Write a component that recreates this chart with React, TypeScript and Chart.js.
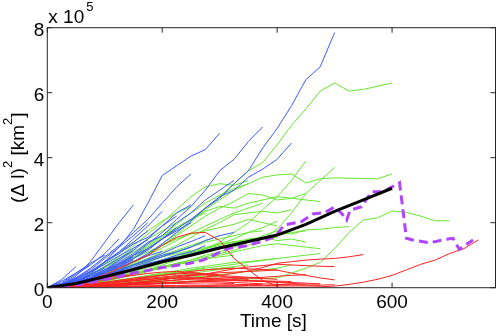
import React, { useEffect, useRef } from "react";
import { Chart, registerables } from "chart.js";
Chart.register(...registerables);

// time step (s) between consecutive samples of each track
const STEP = 25;
const X_MAX = 780;
const Y_MAX = 8;
const xTicks = [0, 200, 400, 600];
const yTicks = [0, 2, 4, 6, 8];
const xTitle = "Time [s]";

// values in units of 1e5 km^2, sampled every STEP seconds from t = 0
const blueTracks: number[][] = [
  [0, 0.05, 0.15, 0.3, 0.45, 0.65, 0.9, 1.15, 1.5, 1.8, 2.1, 2.45, 2.75, 3.2, 3.6, 4.3, 4.9, 5.6, 6.4, 6.8, 7.85],
  [0, 0.05, 0.2, 0.4, 0.8, 1.25, 1.8, 2.6, 3.45, 3.75, 4.05, 4.25, 4.75],
  [0, 0.03, 0.1, 0.25, 0.45, 0.7, 1.0, 1.35, 1.7, 2.1, 2.5, 3.0, 3.6, 3.95, 4.5, 4.95],
  [0, 0.03, 0.1, 0.2, 0.35, 0.55, 0.8, 1.05, 1.35, 1.7, 2.05, 2.45, 2.8, 3.0, 3.4, 3.65, 3.95, 4.45],
  [0, 0.1, 0.35, 0.8, 1.4, 2.0, 2.55],
  [0, 0.15, 0.45, 0.75, 1.0],
  [0, 0.25, 0.65],
  [0, 0.2, 0.45, 0.7],
  [0, 0.05, 0.2, 0.45, 0.8, 1.1, 1.5, 1.9, 2.35],
  [0, 0.05, 0.15, 0.3, 0.5, 0.7, 0.9, 1.2, 1.5, 1.75, 2.0],
  [0, 0.03, 0.1, 0.2, 0.35, 0.5, 0.65, 0.8, 0.95, 1.1, 1.25, 1.45, 1.6, 1.7],
  [0, 0.05, 0.15, 0.3, 0.5, 0.75, 1.0, 1.2, 1.5, 1.85],
  [0, 0.08, 0.3, 0.6, 0.95, 1.3, 1.7, 2.1, 2.6, 3.1, 3.5],
  [0, 0.04, 0.12, 0.25, 0.4, 0.55, 0.7, 0.85, 1.0, 1.1, 1.25],
  [0, 0.06, 0.2, 0.4, 0.65, 0.9, 1.15],
  [0, 0.1, 0.3, 0.55, 0.9, 1.25, 1.6, 2.0],
  [0, 0.02, 0.08, 0.18, 0.3, 0.45, 0.6, 0.75, 0.85, 1.0, 1.1, 1.3],
  [0, 0.07, 0.25, 0.5, 0.8, 1.05, 1.35, 1.55, 1.9, 2.3, 2.55],
  [0, 0.12, 0.4, 0.7, 1.05, 1.5],
  [0, 0.05, 0.18, 0.35, 0.55, 0.8, 1.05, 1.4, 1.6, 2.0, 2.3, 2.7, 3.0, 3.3],
  [0, 0.08, 0.22, 0.4, 0.6],
  [0, 0.04, 0.14, 0.28, 0.45, 0.65, 0.85],
  [0, 0.1, 0.28, 0.5, 0.78, 1.1, 1.4, 1.75],
  [0, 0.03, 0.12, 0.3, 0.55, 0.85, 1.15, 1.5, 1.9, 2.2],
  [0, 0.06, 0.16, 0.3, 0.46, 0.62, 0.8, 0.98, 1.12],
  [0, 0.04, 0.1, 0.2, 0.32, 0.45, 0.58, 0.72, 0.85, 0.95],
  [0, 0.09, 0.26, 0.48, 0.72, 0.98, 1.22, 1.48],
  [0, 0.05, 0.13, 0.24, 0.38, 0.52, 0.7, 0.88, 1.05, 1.25, 1.42, 1.6],
  [0, 0.07, 0.2, 0.36, 0.55, 0.74, 0.95],
  [0, 0.03, 0.09, 0.17, 0.28, 0.4, 0.54, 0.68, 0.8, 0.92, 1.04, 1.15, 1.26],
];

const greenTracks: number[][] = [
  [0, 0.03, 0.1, 0.2, 0.4, 0.55, 0.75, 1.0, 1.35, 1.65, 2.0, 2.45, 2.8, 3.2, 3.6, 3.85, 4.4, 5.0, 5.5, 6.05, 6.3, 6.05, 6.1, 6.2, 6.3],
  [0, 0.01, 0.03, 0.05, 0.07, 0.1, 0.12, 0.14, 0.16, 0.18, 0.2, 0.22, 0.24, 0.25, 0.27, 0.28, 0.3, 0.45, 0.6, 0.78, 1.2, 1.7, 2.08, 2.15, 2.36, 2.32, 2.2, 2.06, 2.06],
  [0, 0.05, 0.15, 0.3, 0.5, 0.7, 0.95, 1.2, 1.5, 1.8, 2.1, 2.4, 2.7, 3.0, 3.2, 3.4, 3.47, 3.5, 3.22, 3.35, 3.38, 3.37, 3.36, 3.35, 3.5],
  [0, 0.04, 0.12, 0.25, 0.4, 0.6, 0.8, 1.05, 1.3, 1.6, 1.9, 2.2, 2.45, 2.65, 2.9, 2.85, 2.7, 2.75, 2.7, 2.65],
  [0, 0.02, 0.06, 0.12, 0.2, 0.3, 0.4, 0.5, 0.62, 0.75, 0.85, 1.0, 1.1, 1.25, 1.4, 1.6, 1.75, 1.65, 1.78, 1.8, 1.85, 1.88],
  [0, 0.02, 0.06, 0.12, 0.2, 0.3, 0.42, 0.55, 0.7, 0.85, 1.0, 1.2, 1.4, 1.7, 2.0, 2.4, 2.8, 3.3, 3.9],
  [0, 0.03, 0.08, 0.15, 0.25, 0.35, 0.45, 0.55, 0.65, 0.75, 0.85, 0.95, 1.05, 1.15, 1.3, 1.5, 1.8, 2.3, 2.9, 3.3, 3.7],
  [0, 0.05, 0.2, 0.4, 0.65, 0.95, 1.3, 1.65, 2.0, 2.4, 2.8, 3.1, 3.2, 3.15, 3.3],
  [0, 0.04, 0.15, 0.3, 0.5, 0.75, 1.0, 1.25, 1.55, 1.85, 2.1, 2.35, 2.5, 2.45, 2.6, 2.7, 2.8, 2.75, 2.9],
  [0, 0.03, 0.1, 0.22, 0.38, 0.55, 0.72, 0.9, 1.1, 1.3, 1.55, 1.8, 2.0, 2.25, 2.3, 2.35, 2.3, 2.4],
  [0, 0.02, 0.08, 0.18, 0.3, 0.45, 0.6, 0.78, 0.95, 1.1, 1.25, 1.4, 1.5, 1.6, 1.7, 1.75],
  [0, 0.03, 0.09, 0.17, 0.27, 0.38, 0.5, 0.62, 0.75, 0.88, 1.0, 1.1, 1.2, 1.35, 1.5, 1.55, 1.45, 1.5, 1.4],
  [0, 0.05, 0.15, 0.3, 0.48, 0.7, 0.9, 1.1, 1.3, 1.5, 1.65, 1.75, 1.85, 1.95, 2.1, 2.0, 1.9],
  [0, 0.02, 0.06, 0.12, 0.2, 0.3, 0.4, 0.5, 0.6, 0.7, 0.8, 0.9, 1.0, 1.1, 1.2, 1.3, 1.35, 1.3, 1.25, 1.2],
  [0, 0.04, 0.12, 0.24, 0.38, 0.52, 0.68, 0.85, 1.0, 1.15, 1.3, 1.45, 1.6],
  [0, 0.06, 0.2, 0.4, 0.62, 0.85, 1.1, 1.35, 1.6, 1.85, 2.1, 2.3],
  [0, 0.03, 0.08, 0.15, 0.25, 0.35, 0.45, 0.55, 0.65, 0.72, 0.8, 0.88, 0.95, 1.0],
  [0, 0.02, 0.05, 0.1, 0.16, 0.22, 0.3, 0.38, 0.45, 0.52, 0.6, 0.66, 0.72, 0.78, 0.8, 0.85, 0.9],
  [0, 0.05, 0.15, 0.28, 0.42, 0.55, 0.7, 0.82, 0.95, 1.05, 1.15],
  [0, 0.01, 0.04, 0.08, 0.13, 0.19, 0.25, 0.32, 0.38, 0.44, 0.5, 0.55, 0.6, 0.65, 0.7],
  [0, 0.02, 0.07, 0.14, 0.22, 0.32, 0.42, 0.52, 0.62],
  [0, 0.04, 0.1, 0.18, 0.28, 0.4, 0.52, 0.65, 0.78, 0.92, 1.05, 1.2, 1.35, 1.5, 1.7, 1.85, 2.05],
  [0, 0.01, 0.03, 0.06, 0.1, 0.14, 0.18, 0.22, 0.26, 0.3, 0.33, 0.36, 0.4, 0.45, 0.5, 0.55, 0.6, 0.7],
  [0, 0.06, 0.22, 0.45, 0.75, 1.05, 1.4, 1.75, 2.05, 2.3, 2.5],
  [0, 0.03, 0.12, 0.28, 0.5, 0.75, 1.0, 1.3, 1.6, 1.95, 2.3, 2.6, 2.85, 3.05, 3.2],
  [0, 0.05, 0.14, 0.25, 0.36, 0.48, 0.6, 0.7, 0.8],
  [0, 0.02, 0.06, 0.11, 0.17, 0.24, 0.3, 0.36, 0.42, 0.48, 0.54, 0.6, 0.66, 0.72, 0.78, 0.84, 0.9, 0.95, 1.0, 1.05],
  [0, 0.04, 0.11, 0.2, 0.3, 0.42, 0.55, 0.68, 0.82, 0.95, 1.08, 1.2, 1.3, 1.4, 1.45, 1.5, 1.55],
  [0, 0.03, 0.09, 0.18, 0.3, 0.44, 0.58, 0.72, 0.86, 1.0, 1.12, 1.24, 1.34, 1.42, 1.48, 1.52, 1.6, 1.7, 1.75],
  [0, 0.05, 0.18, 0.38, 0.62, 0.9, 1.2, 1.5, 1.75, 2.0],
  [0, 0.02, 0.05, 0.09, 0.14, 0.2, 0.26, 0.33, 0.4, 0.47, 0.55, 0.62],
  [0, 0.04, 0.13, 0.26, 0.42, 0.6, 0.8, 1.0, 1.22, 1.45, 1.68, 1.9, 2.1, 2.3, 2.45, 2.6],
  [0, 0.01, 0.03, 0.05, 0.08, 0.11, 0.14, 0.17, 0.2, 0.24, 0.28, 0.32, 0.36],
  [0, 0.02, 0.05, 0.08, 0.12, 0.16, 0.21, 0.26, 0.31, 0.37, 0.43, 0.5, 0.56, 0.62],
  [0, 0.01, 0.04, 0.07, 0.1, 0.13, 0.16, 0.19, 0.22],
];

const redTracks: number[][] = [
  [0, 0.03, 0.1, 0.25, 0.4, 0.6, 0.8, 1.0, 1.3, 1.55, 1.68, 1.7, 1.45, 0.9, 0.55, 0.22, 0.05],
  [0, 0.01, 0.02, 0.02, 0.03, 0.03, 0.03, 0.04, 0.03, 0.03, 0.04, 0.04, 0.03, 0.03, 0.02, 0.02, 0.02, 0.02, 0.02, 0.03, 0.05, 0.1, 0.17, 0.26, 0.38, 0.55, 0.72, 0.85, 1.05, 1.2, 1.47],
  [0, 0.02, 0.04, 0.06, 0.08, 0.1, 0.13, 0.16, 0.2, 0.24, 0.28, 0.33, 0.38, 0.44, 0.52, 0.62, 0.75, 0.8, 0.85, 0.88, 0.9, 0.95, 1.02],
  [0, 0.01, 0.03, 0.06, 0.09, 0.12, 0.16, 0.2, 0.25, 0.3, 0.36, 0.42, 0.5, 0.58, 0.64, 0.68, 0.72, 0.7, 0.68, 0.66, 0.65],
  [0, 0.02, 0.05, 0.1, 0.15, 0.2, 0.26, 0.32, 0.38, 0.44, 0.5, 0.55, 0.58, 0.6, 0.58, 0.56, 0.54, 0.45, 0.38, 0.3, 0.24],
  [0, 0.01, 0.02, 0.04, 0.06, 0.08, 0.1, 0.12, 0.14, 0.16, 0.18, 0.2, 0.18, 0.16, 0.14, 0.12, 0.1, 0.09, 0.08, 0.08],
  [0, 0.02, 0.05, 0.09, 0.14, 0.19, 0.24, 0.29, 0.33, 0.37, 0.4, 0.39, 0.37, 0.35, 0.32, 0.3],
  [0, 0.01, 0.03, 0.05, 0.07, 0.09, 0.11, 0.13, 0.15, 0.17, 0.2, 0.22, 0.24, 0.27, 0.3, 0.32, 0.35, 0.38, 0.4],
  [0, 0.03, 0.08, 0.15, 0.23, 0.31, 0.38, 0.44, 0.48, 0.5, 0.47, 0.42, 0.36, 0.3, 0.25],
  [0, 0.02, 0.06, 0.11, 0.17, 0.23, 0.29, 0.34, 0.38, 0.42, 0.45, 0.43, 0.4],
  [0, 0.01, 0.02, 0.03, 0.04, 0.05, 0.06, 0.06, 0.07, 0.07, 0.08, 0.08, 0.09, 0.09, 0.1, 0.1],
  [0, 0.01, 0.03, 0.05, 0.08, 0.11, 0.14, 0.17, 0.2, 0.23, 0.26, 0.28, 0.3, 0.31, 0.3, 0.28, 0.26],
  [0, 0.04, 0.12, 0.22, 0.3, 0.36, 0.4],
  [0, 0.02, 0.04, 0.07, 0.1, 0.13, 0.16, 0.2, 0.25, 0.3, 0.28, 0.26, 0.24, 0.22, 0.2, 0.2, 0.18, 0.16, 0.14, 0.12],
  [0, 0.01, 0.02, 0.04, 0.06, 0.08, 0.1, 0.12, 0.14, 0.16, 0.18, 0.2, 0.21, 0.22, 0.22, 0.21, 0.2, 0.19],
  [0, 0.02, 0.05, 0.09, 0.13, 0.17, 0.21, 0.25, 0.28, 0.3, 0.31, 0.3, 0.28, 0.25, 0.22, 0.19, 0.16, 0.13, 0.11],
  [0, 0.01, 0.01, 0.02, 0.02, 0.03, 0.03, 0.04, 0.04, 0.05, 0.05, 0.06, 0.06, 0.06, 0.07, 0.07, 0.07, 0.08, 0.08, 0.08, 0.09],
  [0, 0.01, 0.02, 0.03, 0.05, 0.07, 0.09, 0.1, 0.12, 0.13, 0.14, 0.15, 0.14, 0.13],
  [0, 0.02, 0.06, 0.1, 0.14, 0.18, 0.22, 0.26, 0.3, 0.34, 0.38, 0.42, 0.46, 0.48, 0.5, 0.52, 0.55],
];

const meanT = [0, 50, 100, 150, 200, 250, 300, 350, 400, 450, 500, 550, 600];
const meanV = [0, 0.13, 0.34, 0.56, 0.8, 1.0, 1.22, 1.42, 1.62, 1.95, 2.35, 2.7, 3.06];

const dashT = [0, 50, 100, 150, 200, 248, 271, 315, 350, 381, 397, 412, 442, 462, 483, 500, 512, 521, 527, 547, 564, 584, 613, 625, 636, 665, 694, 706, 717, 723, 741];
const dashV = [0, 0.08, 0.25, 0.45, 0.62, 0.75, 0.85, 1.21, 1.3, 1.47, 1.58, 1.93, 2.03, 2.27, 2.31, 2.49, 2.29, 2.08, 2.39, 2.49, 2.95, 2.95, 3.23, 1.52, 1.47, 1.38, 1.49, 1.52, 1.18, 1.26, 1.47];

const BLUE = "#3d5cff";
const GREEN = "#66e630";
const RED = "#ff2222";
const PURPLE = "#b044ff";
const FONT = "'Liberation Sans', Arial, Helvetica, sans-serif";

const track = (vals: number[]) => vals.map((v, i) => ({ x: i * STEP, y: v }));
const pairs = (t: number[], v: number[]) => t.map((x, i) => ({ x, y: v[i] }));

const frame = {
  id: "matlabFrame",
  afterDraw(chart: any) {
    const ctx = chart.ctx as CanvasRenderingContext2D;
    const a = chart.chartArea;
    const xs = chart.scales.x;
    const ys = chart.scales.y;
    ctx.save();
    ctx.strokeStyle = "#262626";
    ctx.lineWidth = 1;
    ctx.strokeRect(a.left, a.top, a.right - a.left, a.bottom - a.top);
    const TL = 5;
    ctx.beginPath();
    xTicks.forEach((t) => {
      const px = xs.getPixelForValue(t);
      ctx.moveTo(px, a.bottom);
      ctx.lineTo(px, a.bottom - TL);
      ctx.moveTo(px, a.top);
      ctx.lineTo(px, a.top + TL);
    });
    yTicks.forEach((t) => {
      const py = ys.getPixelForValue(t);
      ctx.moveTo(a.left, py);
      ctx.lineTo(a.left + TL, py);
      ctx.moveTo(a.right, py);
      ctx.lineTo(a.right - TL, py);
    });
    ctx.stroke();

    ctx.fillStyle = "#000";
    ctx.font = `19px ${FONT}`;
    ctx.textBaseline = "alphabetic";
    ctx.textAlign = "center";
    xTicks.forEach((t) => {
      ctx.fillText(String(t), xs.getPixelForValue(t), a.bottom + 20);
    });
    ctx.textAlign = "right";
    yTicks.forEach((t) => {
      ctx.fillText(String(t), a.left - 3, ys.getPixelForValue(t) + 8.3);
    });
    ctx.textAlign = "center";
    ctx.fillText(xTitle, (a.left + a.right) / 2 + 2, a.bottom + 39);
    ctx.textAlign = "left";
    ctx.fillText("x 10", a.left + 1, 23);
    const w = ctx.measureText("x 10").width;
    ctx.font = `13px ${FONT}`;
    ctx.fillText("5", a.left + 1 + w + 2, 11);

    const segs: [string, boolean][] = [
      ["(\u0394 l)", false],
      ["2", true],
      [" [km", false],
      ["2", true],
      ["]", false],
    ];
    const widths = segs.map(([s, sup]) => {
      ctx.font = `${sup ? 13 : 19}px ${FONT}`;
      return ctx.measureText(s).width;
    });
    const total = widths.reduce((p, c) => p + c, 0);
    ctx.translate(24, (a.top + a.bottom) / 2);
    ctx.rotate(-Math.PI / 2);
    let cx = -total / 2;
    segs.forEach(([s, sup], i) => {
      ctx.font = `${sup ? 13 : 19}px ${FONT}`;
      ctx.fillText(s, cx, sup ? -12 : 0);
      cx += widths[i];
    });
    ctx.restore();
  },
};

export default function App() {
  const ref = useRef<HTMLCanvasElement | null>(null);
  useEffect(() => {
    if (!ref.current) return;
    const base = { borderWidth: 1, pointRadius: 0, tension: 0, fill: false };
    const datasets: any[] = [
      { ...base, data: pairs(meanT, meanV), borderColor: "#000", borderWidth: 3, order: 0 },
      { ...base, data: pairs(dashT, dashV), borderColor: PURPLE, borderWidth: 3, borderDash: [9, 5], order: 1 },
      ...redTracks.map((v) => ({ ...base, data: track(v), borderColor: RED, order: 2 })),
      ...blueTracks.map((v) => ({ ...base, data: track(v), borderColor: BLUE, order: 3 })),
      ...greenTracks.map((v) => ({ ...base, data: track(v), borderColor: GREEN, order: 4 })),
    ];
    const chart = new Chart(ref.current, {
      type: "line",
      data: { datasets },
      options: {
        animation: false,
        responsive: false,
        devicePixelRatio: 1,
        parsing: false as any,
        layout: { padding: { left: 47.3, top: 27.7, right: 2.5, bottom: 48.3 } },
        plugins: { legend: { display: false }, tooltip: { enabled: false } },
        scales: {
          x: { type: "linear", min: 0, max: X_MAX, display: false },
          y: { type: "linear", min: 0, max: Y_MAX, display: false },
        },
      },
      plugins: [frame],
    });
    return () => chart.destroy();
  }, []);
  return (
    <div style={{ position: "absolute", left: 0, top: 0, width: 498, height: 336, background: "#fff" }}>
      <canvas ref={ref} width={498} height={336} />
    </div>
  );
}
